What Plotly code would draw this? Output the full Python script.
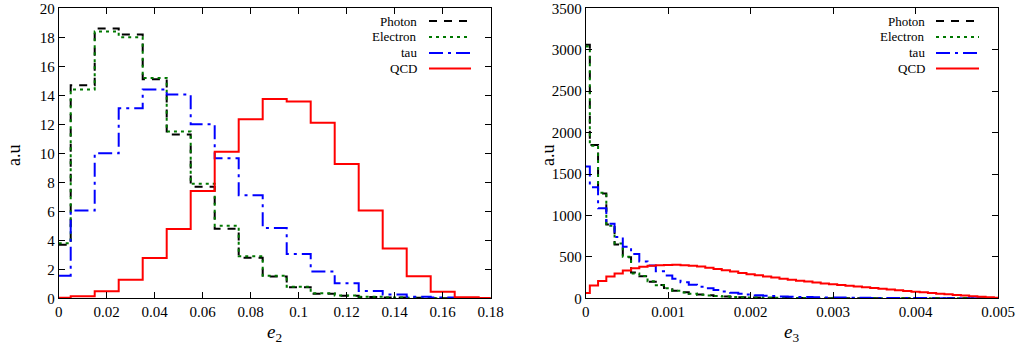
import plotly.graph_objects as go

# ---------------- data ----------------
e2_bins = [0.00, 0.01, 0.02, 0.03, 0.04, 0.05, 0.06, 0.07, 0.08, 0.09,
           0.10, 0.11, 0.12, 0.13, 0.14, 0.15, 0.16, 0.17, 0.18]
photon_e2 = [3.7, 14.7, 18.6, 18.2, 15.1, 11.3, 7.7, 4.8, 2.8, 1.5,
             0.76, 0.32, 0.18, 0.09, 0.05, 0.03, 0.01, 0.0, 0.0]
electron_e2 = [3.8, 14.4, 18.4, 18.0, 15.2, 11.5, 7.9, 5.0, 2.9, 1.55,
               0.8, 0.35, 0.2, 0.1, 0.06, 0.03, 0.01, 0.0, 0.0]
tau_e2 = [1.55, 6.05, 10.0, 13.1, 14.4, 14.05, 12.0, 9.65, 7.1, 4.85,
          3.05, 1.85, 1.03, 0.5, 0.27, 0.11, 0.05, 0.02, 0.0]
qcd_e2 = [0.03, 0.15, 0.48, 1.28, 2.78, 4.78, 7.4, 10.1, 12.35, 13.75,
          13.58, 12.1, 9.27, 6.05, 3.43, 1.52, 0.46, 0.07, 0.02]

e3_bins = [0.0000, 0.0001, 0.0002, 0.0003, 0.0004, 0.0005, 0.0006, 0.0007, 0.0008, 0.0009,
           0.0010, 0.0011, 0.0012, 0.0013, 0.0014, 0.0015, 0.0016, 0.0017, 0.0018, 0.0019,
           0.0020, 0.0021, 0.0022, 0.0023, 0.0024, 0.0025, 0.0026, 0.0027, 0.0028, 0.0029,
           0.0030, 0.0031, 0.0032, 0.0033, 0.0034, 0.0035, 0.0036, 0.0037, 0.0038, 0.0039,
           0.0040, 0.0041, 0.0042, 0.0043, 0.0044, 0.0045, 0.0046, 0.0047, 0.0048, 0.0049,
           0.0050]
photon_e3 = [3060, 1850, 1265, 890, 650, 495, 310, 265, 200, 160,
             125, 92, 72, 56, 45, 36, 29, 23, 18, 14,
             11, 9, 7, 6, 5, 4, 3, 3, 2, 2,
             2, 1, 1, 1, 1, 1, 1, 0, 0, 0,
             0, 0, 0, 0, 0, 0, 0, 0, 0, 0, 0]
electron_e3 = [3040, 1840, 1275, 875, 660, 500, 300, 270, 205, 158,
               120, 90, 70, 55, 44, 35, 28, 22, 17, 14,
               11, 9, 7, 6, 5, 4, 3, 3, 2, 2,
               2, 1, 1, 1, 1, 1, 1, 0, 0, 0,
               0, 0, 0, 0, 0, 0, 0, 0, 0, 0, 0]
tau_e3 = [1590, 1340, 1086, 900, 740, 623, 535, 445, 395, 325,
          275, 235, 195, 165, 140, 120, 100, 82, 68, 56,
          46, 38, 32, 27, 23, 20, 17, 15, 13, 11,
          10, 9, 8, 7, 6, 5, 5, 4, 4, 3,
          3, 3, 2, 2, 2, 2, 1, 1, 1, 1, 1]
qcd_e3 = [65, 155, 210, 262, 300, 335, 362, 382, 394, 400,
          403, 405, 400, 393, 383, 368, 353, 338, 322, 306,
          290, 277, 263, 250, 237, 225, 213, 202, 191, 180,
          170, 161, 152, 143, 134, 125, 116, 107, 98, 89,
          80, 72, 64, 56, 48, 40, 33, 26, 19, 13, 8]

series_names = ["Photon", "Electron", "tau", "QCD"]

e2_xticks = [0, 0.02, 0.04, 0.06, 0.08, 0.1, 0.12, 0.14, 0.16, 0.18]
e2_xticktext = ["0", "0.02", "0.04", "0.06", "0.08", "0.1", "0.12", "0.14", "0.16", "0.18"]
e2_yticks = [0, 2, 4, 6, 8, 10, 12, 14, 16, 18, 20]
e3_xticks = [0, 0.001, 0.002, 0.003, 0.004, 0.005]
e3_xticktext = ["0", "0.001", "0.002", "0.003", "0.004", "0.005"]
e3_yticks = [0, 500, 1000, 1500, 2000, 2500, 3000, 3500]

# ---------------- style ----------------
W, H = 1031, 353
FONT = "Liberation Serif, Times New Roman, serif"
colors = ["#000000", "#007800", "#0000ff", "#ff0000"]
dashes = ["8px,7px", "3px,4px", "14px,5px,3px,5px", "solid"]
LW = 2

# plot area pixel boxes
left_box = (58.7, 490.7)
right_box = (585.7, 998.0)
top_px, bot_px = 8.3, 298.3

fig = go.Figure()

panels = [
    ("x", "y", e2_bins, [photon_e2, electron_e2, tau_e2, qcd_e2]),
    ("x2", "y2", e3_bins, [photon_e3, electron_e3, tau_e3, qcd_e3]),
]
for xa, ya, xs, ys_list in panels:
    for name, ys, c, d in zip(series_names, ys_list, colors, dashes):
        fig.add_trace(go.Scatter(
            x=xs, y=ys, mode="lines", name=name, xaxis=xa, yaxis=ya,
            line=dict(color=c, width=LW, dash=d, shape="hvh"),
            showlegend=False, hoverinfo="skip"))

ydom = [(H - bot_px) / H, (H - top_px) / H]
axis_common = dict(showline=True, linecolor="black", linewidth=1, mirror="ticks",
                   ticks="inside", ticklen=6, tickcolor="black", tickwidth=1,
                   showgrid=False, zeroline=False, automargin=False,
                   tickfont=dict(family=FONT, size=15, color="black"))

fig.update_layout(
    width=W, height=H,
    margin=dict(l=0, r=0, t=0, b=0),
    paper_bgcolor="white", plot_bgcolor="white",
    font=dict(family=FONT, color="black"),
    xaxis=dict(domain=[left_box[0] / W, left_box[1] / W], range=[0, 0.18],
               tickmode="array", tickvals=e2_xticks, ticktext=e2_xticktext,
               anchor="y", **axis_common),
    yaxis=dict(domain=ydom, range=[0, 20], tickmode="array", tickvals=e2_yticks,
               anchor="x", **axis_common),
    xaxis2=dict(domain=[right_box[0] / W, right_box[1] / W], range=[0, 0.005],
                tickmode="array", tickvals=e3_xticks, ticktext=e3_xticktext,
                anchor="y2", **axis_common),
    yaxis2=dict(domain=ydom, range=[0, 3500], tickmode="array", tickvals=e3_yticks,
                anchor="x2", **axis_common),
)

annotations = []
shapes = []
# axis titles
for cx, label in [((left_box[0] + left_box[1]) / 2, "<i>e</i><sub>2</sub>"),
                  ((right_box[0] + right_box[1]) / 2, "<i>e</i><sub>3</sub>")]:
    annotations.append(dict(x=cx / W, y=1 - 333 / H, xref="paper", yref="paper",
                            text=label, showarrow=False, xanchor="center", yanchor="middle",
                            font=dict(family=FONT, size=19, color="black")))
for cx in [14, 548]:
    annotations.append(dict(x=cx / W, y=1 - 155 / H, xref="paper", yref="paper",
                            text="a.u", showarrow=False, textangle=-90,
                            xanchor="center", yanchor="middle",
                            font=dict(family=FONT, size=18, color="black")))

# gnuplot-style legends (text right, sample line to the right)
legend_rows = [21, 37, 53, 68.5]
for text_right, line_x0, line_x1 in [(419, 429, 471), (927, 936, 979)]:
    for name, c, d, ry in zip(series_names, colors, dashes, legend_rows):
        annotations.append(dict(x=text_right / W, y=1 - ry / H, xref="paper", yref="paper",
                                text=name, showarrow=False, xanchor="right", yanchor="middle",
                                font=dict(family=FONT, size=13, color="black")))
        shapes.append(dict(type="line", xref="paper", yref="paper",
                           x0=line_x0 / W, x1=line_x1 / W, y0=1 - ry / H, y1=1 - ry / H,
                           line=dict(color=c, width=LW, dash=d)))

fig.update_layout(annotations=annotations, shapes=shapes)
fig.write_html("out.html")
